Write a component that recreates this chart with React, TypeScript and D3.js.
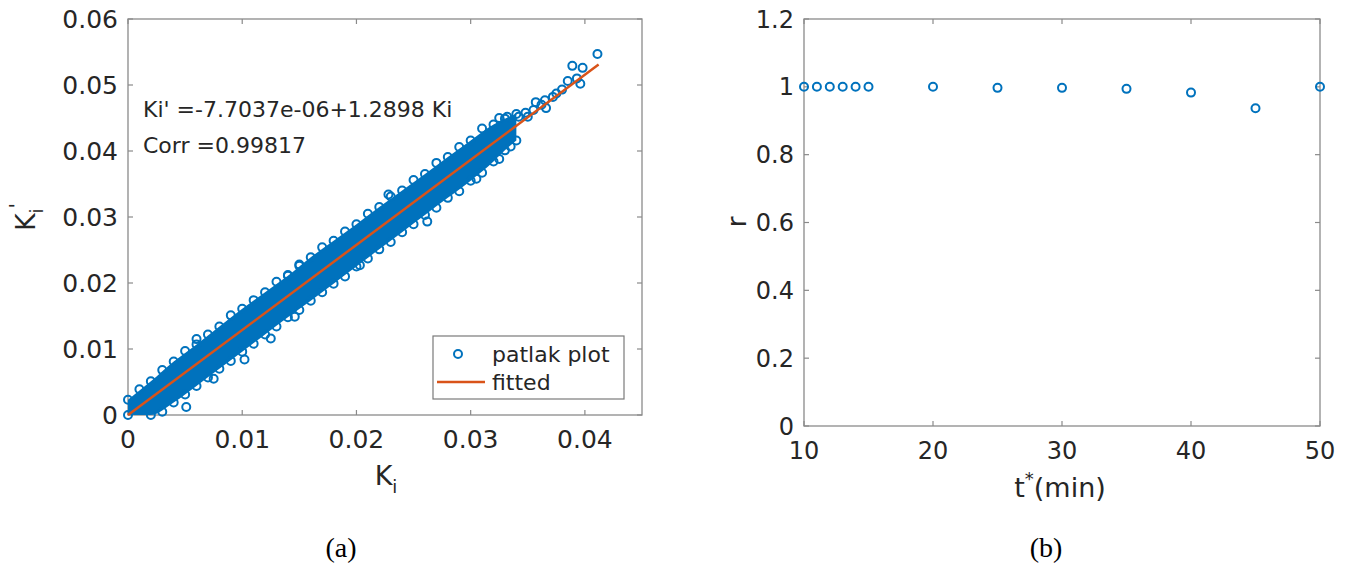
import * as d3 from 'd3';

// ---- panel (a): patlak scatter ----
const kiTicks = [0, 0.01, 0.02, 0.03, 0.04];
const kiTickLabels = ['0', '0.01', '0.02', '0.03', '0.04'];
const kipTicks = [0, 0.01, 0.02, 0.03, 0.04, 0.05, 0.06];
const kipTickLabels = ['0', '0.01', '0.02', '0.03', '0.04', '0.05', '0.06'];

// dense part of the cloud: Ki stations with upper / lower marker centres (Ki')
const bandKi = [0, 0.002, 0.004, 0.006, 0.008, 0.010, 0.012, 0.014, 0.016, 0.018, 0.020, 0.022, 0.024, 0.026, 0.028, 0.030, 0.032, 0.033, 0.034];
const bandUpper = [0.0023, 0.0051, 0.0081, 0.0107, 0.0134, 0.0161, 0.0186, 0.0211, 0.0239, 0.0264, 0.0289, 0.0315, 0.0340, 0.0365, 0.0391, 0.0416, 0.0440, 0.0449, 0.0456];
const bandLower = [0, 0, 0.0019, 0.0044, 0.0070, 0.0096, 0.0122, 0.0148, 0.0173, 0.0199, 0.0225, 0.0251, 0.0277, 0.0303, 0.0329, 0.0355, 0.0384, 0.0401, 0.0416];

// individual markers along the edges and the sparse tail
const scatterKi = [
  0.001, 0.003, 0.005, 0.007, 0.009, 0.011, 0.013, 0.015, 0.017, 0.019, 0.021, 0.023, 0.025, 0.027, 0.029, 0.031, 0.0325,
  0.003, 0.005, 0.007, 0.009, 0.011, 0.013, 0.015, 0.017, 0.019, 0.021, 0.023, 0.025, 0.027, 0.029, 0.031, 0.0325, 0.0335,
  0.0102, 0.0051, 0.0203, 0.0146, 0.0140, 0.0075, 0.0125, 0.0262, 0.0305, 0.0060, 0.0150, 0.0228,
  0.0332, 0.0342, 0.0348, 0.0350, 0.0355, 0.0357, 0.0362, 0.0365, 0.0366, 0.0372, 0.0375, 0.0380, 0.0385, 0.0389, 0.0393, 0.0396, 0.0398, 0.0411,
];
const scatterKip = [
  0.0039, 0.0068, 0.0097, 0.0122, 0.0151, 0.0174, 0.0202, 0.0226, 0.0254, 0.0278, 0.0305, 0.0331, 0.0356, 0.0382, 0.0406, 0.0434, 0.0450,
  0.0005, 0.0031, 0.0057, 0.0082, 0.0108, 0.0134, 0.0159, 0.0186, 0.0210, 0.0237, 0.0262, 0.0289, 0.0314, 0.0339, 0.0367, 0.0388, 0.0407,
  0.0084, 0.0012, 0.0227, 0.0149, 0.0212, 0.0055, 0.0116, 0.0293, 0.0358, 0.0115, 0.0228, 0.0334,
  0.0452, 0.0452, 0.0458, 0.0452, 0.0462, 0.0474, 0.0470, 0.0477, 0.0465, 0.0482, 0.0487, 0.0493, 0.0506, 0.0529, 0.0510, 0.0502, 0.0526, 0.0547,
];

const fitKi = [0, 0.0412];
const fitKip = [-0.0000077, 0.0531];

// ---- panel (b): r vs t* ----
const tValues = [10, 11, 12, 13, 14, 15, 20, 25, 30, 35, 40, 45, 50];
const rValues = [1, 1, 1, 1, 1, 1, 1, 0.997, 0.997, 0.994, 0.983, 0.937, 1];
const tTicks = [10, 20, 30, 40, 50];
const rTicks = [0, 0.2, 0.4, 0.6, 0.8, 1, 1.2];
const rTickLabels = ['0', '0.2', '0.4', '0.6', '0.8', '1', '1.2'];

const BLUE = '#0072BD';
const ORANGE = '#D95319';
const AXIS = '#8a8a8a';
const TEXT = '#262626';
const FONT = 'DejaVu Sans, sans-serif';

function Frame({ x, y, xt, yt, xl, yl, fs }: any) {
  const [x0, x1] = x.range();
  const [y0, y1] = y.range();
  const tl = 5;
  return (
    <g>
      <rect x={x0} y={y1} width={x1 - x0} height={y0 - y1} fill="none" stroke={AXIS} strokeWidth={1.3} />
      {xt.map((t: number, i: number) => (
        <g key={'x' + i}>
          <line x1={x(t)} x2={x(t)} y1={y0} y2={y0 - tl} stroke={AXIS} strokeWidth={1.2} />
          <line x1={x(t)} x2={x(t)} y1={y1} y2={y1 + tl} stroke={AXIS} strokeWidth={1.2} />
          <text x={x(t)} y={y0 + 33} textAnchor="middle" fontSize={fs} fill={TEXT} fontFamily={FONT}>{xl[i]}</text>
        </g>
      ))}
      {yt.map((t: number, i: number) => (
        <g key={'y' + i}>
          <line x1={x0} x2={x0 + tl} y1={y(t)} y2={y(t)} stroke={AXIS} strokeWidth={1.2} />
          <line x1={x1} x2={x1 - tl} y1={y(t)} y2={y(t)} stroke={AXIS} strokeWidth={1.2} />
          <text x={x0 - 10} y={y(t)} dy="0.36em" textAnchor="end" fontSize={fs} fill={TEXT} fontFamily={FONT}>{yl[i]}</text>
        </g>
      ))}
    </g>
  );
}

export default function App() {
  const xA = d3.scaleLinear().domain([0, 0.045]).range([128, 642]);
  const yA = d3.scaleLinear().domain([0, 0.06]).range([415, 19]);
  const xB = d3.scaleLinear().domain([10, 50]).range([804, 1320]);
  const yB = d3.scaleLinear().domain([0, 1.2]).range([426, 19]);

  const band = bandKi.map((k, i) => ({ k, lo: bandLower[i], hi: bandUpper[i] }));
  const bandPath = d3.area<any>().x(d => xA(d.k)).y0(d => yA(d.lo)).y1(d => yA(d.hi)).curve(d3.curveMonotoneX)(band) || '';
  const fitPath = d3.line<number>().x(d => xA(d)).y((d, i) => yA(fitKip[i]))(fitKi) || '';

  const mk = (cx: number, cy: number, key: string) => (
    <circle key={key} cx={cx} cy={cy} r={4} fill="none" stroke={BLUE} strokeWidth={2} />
  );

  return (
    <svg width={1353} height={570} style={{ position: 'absolute', left: 0, top: 0, background: '#fff' }}>
      {/* (a) */}
      <Frame x={xA} y={yA} xt={kiTicks} yt={kipTicks} xl={kiTickLabels} yl={kipTickLabels} fs={25} />
      <path d={bandPath} fill={BLUE} />
      {band.map((d, i) => mk(xA(d.k), yA(d.hi), 'u' + i))}
      {band.map((d, i) => mk(xA(d.k), yA(d.lo), 'l' + i))}
      {scatterKi.map((k, i) => mk(xA(k), yA(scatterKip[i]), 's' + i))}
      <path d={fitPath} fill="none" stroke={ORANGE} strokeWidth={2.5} />

      <text x={143} y={117} fontSize={22} fill={TEXT} fontFamily={FONT}>Ki' =-7.7037e-06+1.2898 Ki</text>
      <text x={143} y={153} fontSize={22} fill={TEXT} fontFamily={FONT}>Corr =0.99817</text>

      <g>
        <rect x={433} y={336} width={191} height={63} fill="#fff" stroke="#7a7a7a" strokeWidth={1.2} />
        {mk(458, 354, 'legm')}
        <text x={492} y={362} fontSize={22} fill={TEXT} fontFamily={FONT}>patlak plot</text>
        <line x1={437} x2={485} y1={382} y2={382} stroke={ORANGE} strokeWidth={2.5} />
        <text x={492} y={390} fontSize={22} fill={TEXT} fontFamily={FONT}>fitted</text>
      </g>

      <text x={386} y={485} textAnchor="middle" fontSize={27} fill={TEXT} fontFamily={FONT}>
        K<tspan fontSize={18} dy={8}>i</tspan>
      </text>
      <text transform="translate(35,217) rotate(-90)" textAnchor="middle" fontSize={27} fill={TEXT} fontFamily={FONT}>
        K<tspan fontSize={18} dy={8}>i</tspan><tspan fontSize={20} dy={-20}>'</tspan>
      </text>

      {/* (b) */}
      <Frame x={xB} y={yB} xt={tTicks} yt={rTicks} xl={tTicks.map(String)} yl={rTickLabels} fs={24} />
      {tValues.map((t, i) => mk(xB(t), yB(rValues[i]), 'r' + i))}
      <text x={1060} y={497} textAnchor="middle" fontSize={27} fill={TEXT} fontFamily={FONT}>
        t<tspan fontSize={18} dy={-12}>*</tspan><tspan dy={12}>(min)</tspan>
      </text>
      <text transform="translate(746,222) rotate(-90)" textAnchor="middle" fontSize={27} fill={TEXT} fontFamily={FONT}>r</text>

      <text x={341} y={557} textAnchor="middle" fontSize={28} fill="#000" fontFamily="Liberation Serif, Times New Roman, serif">(a)</text>
      <text x={1046} y={557} textAnchor="middle" fontSize={28} fill="#000" fontFamily="Liberation Serif, Times New Roman, serif">(b)</text>
    </svg>
  );
}
